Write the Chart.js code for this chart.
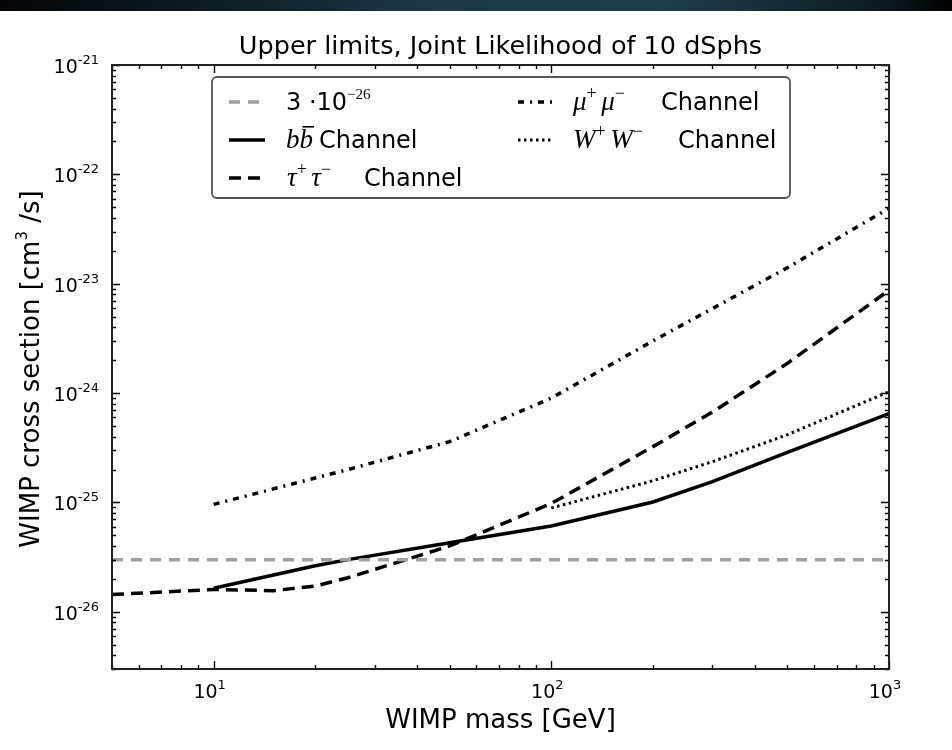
<!DOCTYPE html>
<html>
<head>
<meta charset="utf-8">
<script src="https://cdn.jsdelivr.net/npm/chart.js@4.4.1/dist/chart.umd.min.js"></script>
<style>
  body { margin: 0; background: #fff; }
  #wrap { width: 952px; height: 750px; }
</style>
</head>
<body>
<div id="wrap"><canvas id="Chart" width="952" height="750"></canvas></div>
<script>
// WIMP mass [GeV] and upper limits [cm^3/s]
const massRef = [5, 1000];
const sigmaRef = [3e-26, 3e-26];

const massBB = [10, 20, 25, 50, 100, 200, 300, 500, 1000];
const sigmaBB = [1.64e-26, 2.64e-26, 3.0e-26, 4.28e-26, 6.1e-26, 1.01e-25, 1.55e-25, 2.87e-25, 6.5e-25];

const massTau = [5, 10, 15, 20, 25, 50, 100, 200, 300, 500, 1000];
const sigmaTau = [1.44e-26, 1.6e-26, 1.56e-26, 1.72e-26, 2.05e-26, 4.0e-26, 9.8e-26, 3.24e-25, 6.7e-25, 1.87e-24, 8.7e-24];

const massMu = [10, 25, 50, 100, 200, 500, 1000];
const sigmaMu = [9.6e-26, 2.0e-25, 3.6e-25, 9.0e-25, 3.0e-24, 1.4e-23, 4.9e-23];

const massWW = [100, 200, 300, 500, 1000];
const sigmaWW = [8.9e-26, 1.58e-25, 2.36e-25, 4.16e-25, 1.03e-24];

const xMajor = [10, 100, 1000];
const yMajor = [1e-26, 1e-25, 1e-24, 1e-23, 1e-22, 1e-21];

function pts(xs, ys) {
    return xs.map(function(x, i) { return { x: x, y: ys[i] }; });
}

const SANS = '"DejaVu Sans", sans-serif';
const SERIF = '"Liberation Serif", serif';

// draw text pieces one after the other: [text, font, raise, extra]
function drawRuns(ctx, runs, x, y, align) {
    let w = 0;
    runs.forEach(function(r) { ctx.font = r[1]; w += ctx.measureText(r[0]).width; });
    let cx = align === 'center' ? x - w / 2 : (align === 'right' ? x - w : x);
    runs.forEach(function(r) {
        ctx.font = r[1];
        const tw = ctx.measureText(r[0]).width;
        ctx.fillText(r[0], cx, y - (r[2] || 0));
        if (r[3] === 'bar') {
            ctx.fillRect(cx + 3, y - 22, tw - 2, 1.6);
        }
        cx += tw;
    });
    return w;
}

function powLabel(exp) {
    return [['10', '19px ' + SANS, 0], [exp, '13px ' + SANS, 9]];
}

const mplAxes = {
    id: 'mplAxes',
    beforeDraw: function(chart) {
        const ctx = chart.ctx;
        ctx.save();
        const g = ctx.createLinearGradient(0, 0, 952, 0);
        g.addColorStop(0, '#030507');
        g.addColorStop(0.2, '#0b1a22');
        g.addColorStop(0.45, '#1c3846');
        g.addColorStop(0.7, '#1f3d4a');
        g.addColorStop(0.92, '#0c1c24');
        g.addColorStop(1, '#000');
        ctx.fillStyle = g;
        ctx.fillRect(0, 0, 952, 11);
        ctx.restore();
    },
    afterDraw: function(chart) {
        const ctx = chart.ctx;
        const a = chart.chartArea;
        const xs = chart.scales.x, ys = chart.scales.y;
        ctx.save();
        ctx.fillStyle = '#000';
        ctx.strokeStyle = '#000';

        // inward ticks on all four sides
        ctx.lineWidth = 1.4;
        ctx.beginPath();
        for (let e = 0; e <= 3; e++) {
            for (let k = 1; k <= 9; k++) {
                const v = k * Math.pow(10, e);
                if (v < xs.min || v > xs.max) continue;
                const px = Math.round(xs.getPixelForValue(v)) + 0.5;
                const len = k === 1 ? 8 : 4;
                ctx.moveTo(px, a.bottom); ctx.lineTo(px, a.bottom - len);
                ctx.moveTo(px, a.top); ctx.lineTo(px, a.top + len);
            }
        }
        for (let e = -27; e <= -21; e++) {
            for (let k = 1; k <= 9; k++) {
                const v = k * Math.pow(10, e);
                if (v < ys.min * 0.999 || v > ys.max * 1.001) continue;
                const py = Math.round(ys.getPixelForValue(v)) + 0.5;
                const len = k === 1 ? 8 : 4;
                ctx.moveTo(a.left, py); ctx.lineTo(a.left + len, py);
                ctx.moveTo(a.right, py); ctx.lineTo(a.right - len, py);
            }
        }
        ctx.stroke();

        // frame
        ctx.lineWidth = 2;
        ctx.strokeStyle = '#222';
        ctx.strokeRect(a.left, a.top, a.right - a.left, a.bottom - a.top);

        // tick labels
        ctx.textBaseline = 'alphabetic';
        ctx.textAlign = 'left';
        xMajor.forEach(function(v) {
            drawRuns(ctx, powLabel(String(Math.round(Math.log10(v)))), xs.getPixelForValue(v) - 4, 698, 'center');
        });
        yMajor.forEach(function(v) {
            drawRuns(ctx, powLabel(String(Math.round(Math.log10(v)))), a.left - 13, ys.getPixelForValue(v) + 8, 'right');
        });

        // title and axis titles
        drawRuns(ctx, [['Upper limits, Joint Likelihood of 10 dSphs', '25.5px ' + SANS, 0]], (a.left + a.right) / 2, 54, 'center');
        drawRuns(ctx, [['WIMP mass [GeV]', '26px ' + SANS, 0]], (a.left + a.right) / 2, 728, 'center');
        ctx.save();
        ctx.translate(39, (a.top + a.bottom) / 2 + 2);
        ctx.rotate(-Math.PI / 2);
        drawRuns(ctx, [['WIMP cross section [cm', '26px ' + SANS, 0], ['3', '15px ' + SANS, 12], [' /s]', '26px ' + SANS, 0]], 0, 0, 'center');
        ctx.restore();

        // legend
        const bx = 212, by = 77, bw = 578, bh = 121;
        ctx.beginPath();
        ctx.roundRect(bx, by, bw, bh, 5);
        ctx.fillStyle = '#fff';
        ctx.fill();
        ctx.lineWidth = 1.8;
        ctx.strokeStyle = '#555';
        ctx.stroke();

        const sans = '24px ' + SANS, it = 'italic 27px ' + SERIF, sup = '18px ' + SERIF;
        const items = [
            { x: 229, y: 102, ds: 0, tx: 286, chx: null,
              runs: [['3', sans, 0], [' \u00b7', sans, 0], ['10', sans, 0], ['\u221226', '15px ' + SERIF, 11]] },
            { x: 229, y: 140, ds: 1, tx: 286, chx: 319,
              runs: [['b', it, 0], ['b', it, 0, 'bar']] },
            { x: 229, y: 178, ds: 2, tx: 287, chx: 364,
              runs: [['\u03c4', it, 0], ['+', sup, 11], [' ', sup, 0], ['\u03c4', it, 0], ['\u2212', sup, 11]] },
            { x: 518, y: 102, ds: 3, tx: 573, chx: 661,
              runs: [['\u03bc', it, 0], ['+', sup, 11], [' ', sup, 0], ['\u03bc', it, 0], ['\u2212', sup, 11]] },
            { x: 518, y: 140, ds: 4, tx: 573, chx: 678,
              runs: [['W', it, 0], ['+', sup, 11], [' ', sup, 0], ['W', it, 0], ['\u2212', sup, 11]] }
        ];
        items.forEach(function(item) {
            const d = chart.data.datasets[item.ds];
            ctx.save();
            ctx.strokeStyle = d.borderColor;
            ctx.lineWidth = d.borderWidth;
            ctx.setLineDash(d.borderDash || []);
            ctx.beginPath();
            ctx.moveTo(item.x, item.y);
            ctx.lineTo(item.x + 36, item.y);
            ctx.stroke();
            ctx.restore();
            ctx.fillStyle = '#000';
            drawRuns(ctx, item.runs, item.tx, item.y + 8, 'left');
            if (item.chx) {
                drawRuns(ctx, [['Channel', sans, 0]], item.chx, item.y + 8, 'left');
            }
        });
        ctx.restore();
    }
};

const chart = new Chart(document.getElementById('Chart'), {
    type: 'line',
    data: {
        datasets: [
            { label: '3e-26', data: pts(massRef, sigmaRef), borderColor: '#a0a0a0', borderWidth: 3.5, borderDash: [11, 8] },
            { label: 'bb Channel', data: pts(massBB, sigmaBB), borderColor: '#000', borderWidth: 3.5 },
            { label: 'tau Channel', data: pts(massTau, sigmaTau), borderColor: '#000', borderWidth: 3.5, borderDash: [12, 7] },
            { label: 'mu Channel', data: pts(massMu, sigmaMu), borderColor: '#000', borderWidth: 3.5, borderDash: [6, 6, 2, 6] },
            { label: 'WW Channel', data: pts(massWW, sigmaWW), borderColor: '#000', borderWidth: 3, borderDash: [2.5, 3.5] }
        ]
    },
    options: {
        responsive: false,
        animation: false,
        layout: { padding: { left: 112, right: 63, top: 65, bottom: 81 } },
        scales: {
            x: { type: 'logarithmic', min: 5, max: 1000, display: false },
            y: { type: 'logarithmic', min: 3e-27, max: 1e-21, display: false }
        },
        elements: {
            point: { radius: 0 },
            line: { tension: 0, borderCapStyle: 'butt', fill: false }
        },
        plugins: {
            legend: { display: false },
            tooltip: { enabled: false }
        }
    },
    plugins: [mplAxes]
});
</script>
</body>
</html>
